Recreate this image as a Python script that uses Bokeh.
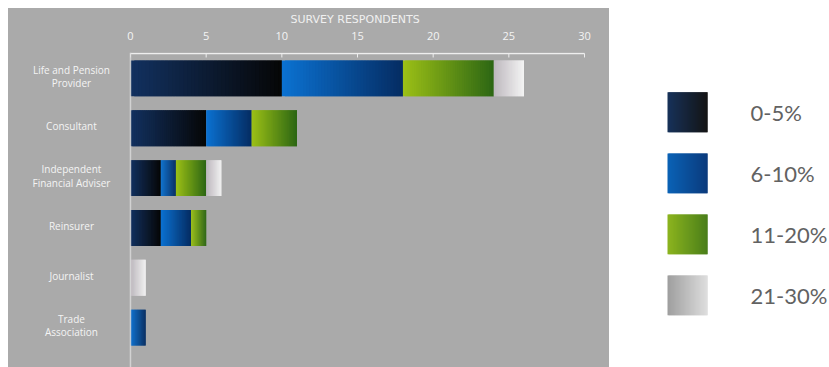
import numpy as np
from bokeh.plotting import figure
from bokeh.layouts import row
from bokeh.models import Range1d, FixedTicker, ColumnDataSource, Span
from bokeh.core.properties import value
from bokeh.embed import file_html
from bokeh.resources import INLINE

# ---------------- data ----------------
categories = ["Life and Pension\nProvider", "Consultant", "Independent\nFinancial Adviser",
              "Reinsurer", "Journalist", "Trade\nAssociation"]
series = ["0-5%", "6-10%", "11-20%", "21-30%"]
s_0_5 = [10, 5, 2, 2, 0, 0]
s_6_10 = [8, 3, 1, 2, 0, 1]
s_11_20 = [6, 3, 2, 1, 0, 0]
s_21_30 = [2, 0, 1, 0, 1, 0]
x_ticks = [0, 5, 10, 15, 20, 25, 30]
axis_title = "SURVEY RESPONDENTS"

# ---------------- styles ----------------
bar_grad = [("#123160", "#060606"), ("#0b72d2", "#052c62"),
            ("#9cc016", "#2c6614"), ("#bdb8be", "#f4f4f4")]
legend_grad = [("#17325a", "#141414"), ("#0b62b6", "#0a3a7c"),
               ("#8cb41e", "#4a7e1a"), ("#9e9e9e", "#dedede")]
PANEL = "#aaaaaa"
N_SLICES = 40


def hex2rgb(h):
    h = h.lstrip("#")
    return np.array([int(h[i:i + 2], 16) for i in (0, 2, 4)], dtype=float)


def lerp(c1, c2, t):
    a, b = hex2rgb(c1), hex2rgb(c2)
    c = a + (b - a) * t
    return "#%02x%02x%02x" % tuple(int(round(v)) for v in c)


values = [s_0_5, s_6_10, s_11_20, s_21_30]
ypos = list(range(len(categories)))

# ---------------- chart ----------------
XR = (-8.06, 31.65)
p = figure(width=601, height=359, output_backend="svg", toolbar_location=None,
           x_range=Range1d(*XR), y_range=Range1d(5.8, -0.52),
           x_axis_location="above", y_axis_location=None,
           min_border_left=0, min_border_right=0, min_border_bottom=0, min_border_top=43,
           background_fill_color=PANEL, border_fill_color=PANEL, outline_line_color=None,
           margin=(8, 0, 0, 8), styles={"background-color": PANEL})
p.grid.visible = False

p.title.text = axis_title
p.title.align = "left"
p.title.offset = 282
p.title.text_color = "#f0f0f0"
p.title.text_font = "DejaVu Sans"
p.title.text_font_style = "normal"
p.title.text_font_size = "11px"
p.title.standoff = 5

ax = p.xaxis[0]
ax.ticker = FixedTicker(ticks=x_ticks)
ax.axis_line_color = None
ax.major_tick_line_color = None
ax.minor_tick_line_color = None
ax.major_label_text_color = "#f4f4f4"
ax.major_label_text_font = "Open Sans"
ax.major_label_text_font_size = "11px"
ax.major_label_standoff = 7

# axis line + inward ticks (drawn through the data scale)
p.segment(x0=[x_ticks[0]], x1=[x_ticks[-1]], y0=[-0.5], y1=[-0.5],
          line_color="#eeeeee", line_width=1.5)
p.segment(x0=x_ticks, x1=x_ticks, y0=[-0.5] * len(x_ticks), y1=[-0.42] * len(x_ticks),
          line_color="#eeeeee", line_width=1)

p.add_layout(Span(location=0, dimension="height", line_color="#dcdcdc",
                  line_width=1.5, line_alpha=0.8))

cum = np.zeros(len(categories))
for j, vals in enumerate(values):
    lefts, rights, ys, cols = [], [], [], []
    for i, v in enumerate(vals):
        if v <= 0:
            continue
        start = cum[i]
        for k in range(N_SLICES):
            l = start + v * k / N_SLICES
            r = start + v * min(k + 2, N_SLICES) / N_SLICES
            lefts.append(l)
            rights.append(r)
            ys.append(ypos[i])
            cols.append(lerp(bar_grad[j][0], bar_grad[j][1], (k + 0.5) / N_SLICES))
    src = ColumnDataSource(dict(left=lefts, right=rights, y=ys, color=cols))
    p.hbar(y="y", left="left", right="right", height=0.72, source=src,
           fill_color="color", line_color=None)
    cum += np.array(vals, dtype=float)

lab_src = ColumnDataSource(dict(x=[-3.9] * len(categories), y=[v - 0.04 for v in ypos],
                                text=categories))
p.text(x="x", y="y", text="text", source=lab_src, text_color="#f4f4f4",
       text_font=value("Open Sans"), text_font_size="10px",
       text_align="center", text_baseline="middle", text_line_height=0.95)

# ---------------- legend ----------------
# same frame structure as the chart so the row aligns; ranges map page pixels
lg = figure(width=220, height=359, output_backend="svg", toolbar_location=None,
            x_range=Range1d(609, 829), y_range=Range1d(367, 51),
            x_axis_location=None, y_axis_location=None,
            min_border_left=0, min_border_right=0, min_border_bottom=0, min_border_top=43,
            outline_line_color=None, margin=(8, 0, 0, 0),
            background_fill_color="white", border_fill_color="white")
lg.grid.visible = False

sw_left, sw_w, sw_h = 667, 40, 40
leg_y0, leg_dy = 111.0, 61.2
ly = [leg_y0 + leg_dy * j for j in range(len(series))]
for j, name in enumerate(series):
    ls, rs, yy, cc = [], [], [], []
    for k in range(N_SLICES):
        ls.append(sw_left + sw_w * k / N_SLICES)
        rs.append(sw_left + sw_w * min(k + 2, N_SLICES) / N_SLICES)
        yy.append(ly[j])
        cc.append(lerp(legend_grad[j][0], legend_grad[j][1], (k + 0.5) / N_SLICES))
    lg.hbar(y=yy, left=ls, right=rs, height=sw_h, fill_color=cc, line_color=None)

lg.text(x=[750] * len(series), y=ly, text=series, text_color="#626262",
        text_font=value("Lato"), text_font_size="22px",
        text_align="left", text_baseline="middle")

layout = row(p, lg)
open("out.html", "w").write(file_html(layout, INLINE))
